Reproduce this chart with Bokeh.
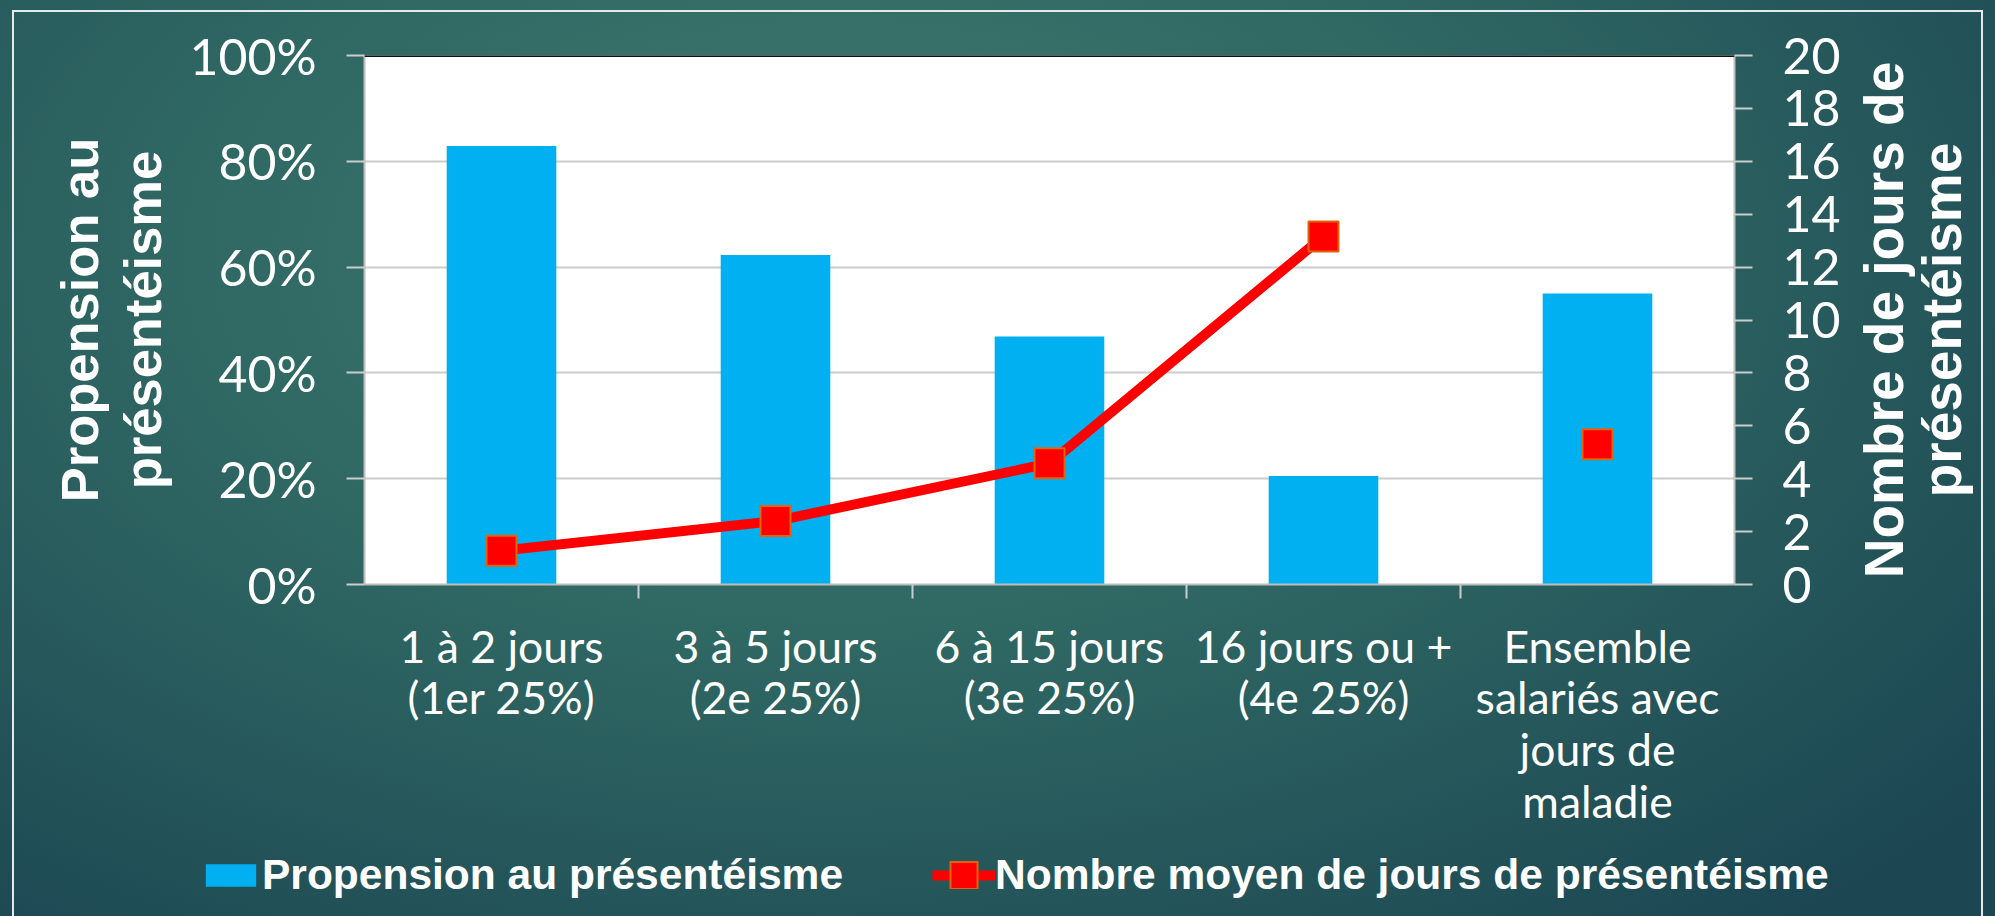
import math
from bokeh.plotting import figure
from bokeh.layouts import row, column
from bokeh.models import (FactorRange, Range1d, LinearAxis, CategoricalAxis, FixedTicker, Label,
                          PrintfTickFormatter, Legend, LegendItem, Span, ColumnDataSource)
from bokeh.embed import file_html
from bokeh.resources import INLINE

# ---------------- data ----------------
categories = ["1 à 2 jours\n(1er 25%)", "3 à 5 jours\n(2e 25%)", "6 à 15 jours\n(3e 25%)",
              "16 jours ou +\n(4e 25%)", "Ensemble\nsalariés avec\njours de\nmaladie"]
propension = [82.9, 62.3, 46.9, 20.5, 55.0]          # % (left axis)
jours_moyens = [1.28, 2.40, 4.58, 13.16, 5.30]       # days (right axis)
left_ticks = [0, 20, 40, 60, 80, 100]
right_ticks = [0, 2, 4, 6, 8, 10, 12, 14, 16, 18, 20]
edge_names = ["b0", "b1", "b2", "b3", "b4", "b5"]    # category boundaries (tick marks)
label_bars = "Propension au présentéisme"
label_line = "Nombre moyen de jours de présentéisme"
title_left = "Propension au\nprésentéisme"
title_right = "Nombre de jours de\nprésentéisme"

W, H = 1995, 916
MAIN_W, MAIN_H = 1850, 830
TOP, BOTTOM = 55, 240
TICK_FONT = "Lato"
BOLD_FONT = "Liberation Sans"
GRID = "#cccccc"
AXIS = "#bdbdbd"
LINE_C = "#e2ebe9"
BLUE, RED, EDGE = "#00B0F0", "#FF0000", "#E2630E"

bg = (f"linear-gradient({LINE_C},{LINE_C}) 12px 10px/2px calc(100% - 10px) no-repeat, "
      f"linear-gradient({LINE_C},{LINE_C}) 12px 10px/calc(100% - 24px) 2px no-repeat, "
      f"linear-gradient({LINE_C},{LINE_C}) calc(100% - 12px) 10px/2px calc(100% - 10px) no-repeat, "
      "radial-gradient(ellipse 75% 95% at 42% 28%, #3f7c6f 0%, #2f6763 45%, #1b4652 100%)")


def clear(fig):
    fig.border_fill_color = None
    fig.border_fill_alpha = 0
    fig.outline_line_color = None
    for g in fig.grid:
        g.visible = False


# ---------------- main chart ----------------
p = figure(width=MAIN_W, height=MAIN_H, x_range=FactorRange(factors=categories),
           y_range=Range1d(0, 100), x_axis_location=None, output_backend="svg",
           toolbar_location=None, min_border_left=364, min_border_right=MAIN_W - 1734,
           min_border_top=TOP, min_border_bottom=BOTTOM)
clear(p)
p.background_fill_color = "white"

ya = p.yaxis[0]
ya.ticker = FixedTicker(ticks=left_ticks)
ya.formatter = PrintfTickFormatter(format="%d%%")
ya.major_label_text_font = TICK_FONT
ya.major_label_text_font_size = "50px"
ya.major_label_text_color = "white"
ya.major_label_standoff = 30
ya.axis_line_color = AXIS
ya.axis_line_width = 2
ya.major_tick_line_color = GRID
ya.major_tick_line_width = 2
ya.major_tick_out = 18
ya.major_tick_in = 0
ya.minor_tick_line_color = None
ya.axis_label = title_left
ya.axis_label_text_font = BOLD_FONT
ya.axis_label_text_font_style = "bold"
ya.axis_label_text_font_size = "52.5px"
ya.axis_label_text_color = "white"
ya.axis_label_standoff = 14
ya.axis_label_text_line_height = 1.08

for g in p.grid:
    if g.dimension == 1:
        g.visible = True
        g.ticker = FixedTicker(ticks=left_ticks)
        g.grid_line_color = GRID
        g.grid_line_width = 2

jours_range = Range1d(0, 20)
p.extra_y_ranges = {"jours": jours_range}
ra = LinearAxis(y_range_name="jours", ticker=FixedTicker(ticks=right_ticks))
ra.major_label_text_font = TICK_FONT
ra.major_label_text_font_size = "50px"
ra.major_label_text_color = "white"
ra.major_label_standoff = 30
ra.axis_line_color = AXIS
ra.axis_line_width = 2
ra.major_tick_line_color = GRID
ra.major_tick_line_width = 2
ra.major_tick_out = 18
ra.major_tick_in = 0
ra.minor_tick_line_color = None
p.add_layout(ra, "right")

p.extra_x_ranges = {"edges": FactorRange(factors=edge_names, range_padding=-0.5,
                                         range_padding_units="absolute")}
ea = CategoricalAxis(x_range_name="edges")
ea.major_label_text_font_size = "1px"
ea.major_label_text_alpha = 0
ea.major_label_standoff = 0
ea.axis_line_color = AXIS
ea.axis_line_width = 2
ea.major_tick_line_color = GRID
ea.major_tick_line_width = 2
ea.major_tick_out = 14
ea.major_tick_in = 0
p.add_layout(ea, "below")

ca = CategoricalAxis()
ca.axis_line_color = None
ca.major_tick_line_color = None
ca.major_label_text_font = TICK_FONT
ca.major_label_text_font_size = "44.5px"
ca.major_label_text_color = "white"
ca.major_label_standoff = 14
ca.major_label_text_line_height = 0.98
p.add_layout(ca, "below")

src = ColumnDataSource(dict(cat=categories, prop=propension, jours=jours_moyens))
src_line = ColumnDataSource(dict(cat=categories[:4], jours=jours_moyens[:4]))

p.vbar(x="cat", top="prop", width=0.4, source=src, fill_color=BLUE, line_color=None)
p.line(x="cat", y="jours", source=src_line, y_range_name="jours",
       line_color=RED, line_width=10, line_join="round")
p.scatter(x="cat", y="jours", source=src, y_range_name="jours", marker="square",
          size=30, fill_color=RED, line_color=EDGE, line_width=2)
p.add_layout(Span(location=100, dimension="width", line_color="#111111", line_width=3))

# ---------------- right title strip ----------------
t = figure(width=W - MAIN_W, height=MAIN_H, x_range=Range1d(0, 1), y_range=jours_range,
           x_axis_location=None, y_axis_location=None, output_backend="svg",
           toolbar_location=None, min_border_left=0, min_border_right=0,
           min_border_top=TOP, min_border_bottom=BOTTOM)
clear(t)
t.background_fill_alpha = 0
t.add_layout(Label(x=2, y=(jours_range.start + jours_range.end) / 2, x_units="screen",
                   y_units="data", text=title_right, angle=math.pi / 2,
                   text_align="center", text_baseline="top", text_font=BOLD_FONT,
                   text_font_style="bold", text_font_size="55px", text_color="white",
                   text_line_height=0.95))

# ---------------- legend strip ----------------
LEG_H = H - MAIN_H
lg = figure(width=W, height=LEG_H, x_range=FactorRange(factors=categories),
            y_range=Range1d(0, 20), x_axis_location=None, y_axis_location=None,
            output_backend="svg", toolbar_location=None, min_border=0)
clear(lg)
lg.background_fill_alpha = 0
# swatch renderers: same data, hidden (only their legend glyphs are drawn)
sw_bar = lg.vbar(x="cat", top="prop", width=0.4, source=src, fill_color=BLUE, line_color=None,
                 visible=False)
sw_line = lg.line(x="cat", y="jours", source=src_line, line_color=RED, line_width=10,
                  line_cap="butt", visible=False)
sw_edge = lg.line(x="cat", y="jours", source=src_line, line_color=EDGE, line_width=29,
                  line_dash="0 17 29 17", line_cap="butt", visible=False)
sw_fill = lg.line(x="cat", y="jours", source=src_line, line_color=RED, line_width=25,
                  line_dash="0 19 25 19", line_cap="butt", visible=False)
legend = Legend(items=[LegendItem(label=label_bars, renderers=[sw_bar]),
                       LegendItem(label=label_line, renderers=[sw_line, sw_edge, sw_fill])],
                location=(199, 16), orientation="horizontal", padding=0, margin=0,
                border_line_color=None, background_fill_alpha=0, inactive_fill_alpha=0,
                label_text_font=BOLD_FONT, label_text_font_style="bold",
                label_text_font_size="42.5px", label_text_color="white", label_standoff=0,
                glyph_width=63, glyph_height=28, label_height=50, spacing=89)
lg.add_layout(legend)

layout = column(row(p, t), lg, styles={"background": bg})
open("out.html", "w").write(file_html(layout, INLINE))
